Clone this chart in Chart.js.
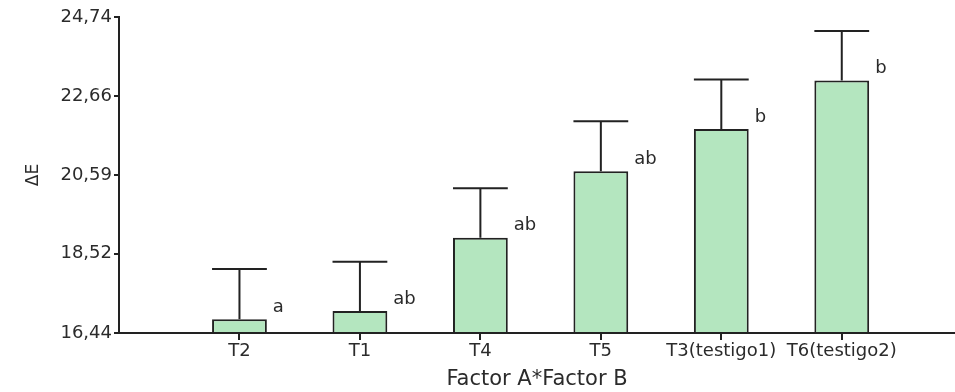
<!DOCTYPE html>
<html>
<head>
<meta charset="utf-8">
<script src="https://cdn.jsdelivr.net/npm/chart.js@4.4.0/dist/chart.umd.min.js"></script>
<style>
  html, body { margin: 0; padding: 0; background: #fff; }
</style>
</head>
<body>
<canvas id="grafico" width="955" height="392"></canvas>
<script>
// datos
const categories = ["T2", "T1", "T4", "T5", "T3(testigo1)", "T6(testigo2)"];
const means = [16.80, 17.02, 18.94, 20.69, 21.80, 23.07];
const upperLimits = [18.12, 18.31, 20.24, 22.00, 23.10, 24.37];
const letters = ["a", "ab", "ab", "ab", "b", "b"];
const yTicks = [16.44, 18.52, 20.59, 22.66, 24.74];

Chart.defaults.font.family = "'DejaVu Sans', sans-serif";
Chart.defaults.color = "#2b2b2b";

// barras de error (solo hacia arriba) y letras de Tukey
const errorBars = {
    id: "errorBars",
    afterDatasetsDraw(chart) {
        const ctx = chart.ctx;
        const y = chart.scales.y;
        const meta = chart.getDatasetMeta(0);
        ctx.save();
        ctx.strokeStyle = "#222";
        ctx.lineWidth = 2;
        meta.data.forEach((bar, i) => {
            const half = bar.width / 2;
            const yTop = y.getPixelForValue(upperLimits[i]);
            const yMean = y.getPixelForValue(means[i]);
            ctx.beginPath();
            ctx.moveTo(bar.x, yMean);
            ctx.lineTo(bar.x, yTop);
            ctx.moveTo(bar.x - half, yTop);
            ctx.lineTo(bar.x + half, yTop);
            ctx.stroke();
            ctx.fillStyle = "#2b2b2b";
            ctx.font = "18px 'DejaVu Sans', sans-serif";
            ctx.textAlign = "left";
            ctx.textBaseline = "middle";
            ctx.fillText(letters[i], bar.x + half + 6, yMean - 12);
        });
        ctx.restore();
    }
};

new Chart(document.getElementById("grafico"), {
    type: "bar",
    data: {
        datasets: [{
            data: means.map((v, i) => ({ x: i + 1, y: v })),
            base: yTicks[0],
            backgroundColor: "#b4e6bf",
            borderColor: "#222",
            borderWidth: 2,
            barPercentage: 0.455,
            categoryPercentage: 1
        }]
    },
    options: {
        responsive: false,
        animation: false,
        layout: { padding: { top: 17, right: 0, left: 0, bottom: 0 } },
        plugins: { legend: { display: false }, tooltip: { enabled: false } },
        scales: {
            x: {
                type: "linear",
                min: 0,
                max: 6.94,
                offset: false,
                grid: { offset: false, drawOnChartArea: false, drawTicks: true, tickLength: 7, color: "#222", lineWidth: 2 },
                border: { display: true, color: "#222", width: 2 },
                afterBuildTicks: s => { s.ticks = categories.map((c, i) => ({ value: i + 1 })); },
                afterFit: s => { s.height = 59; },
                ticks: {
                    autoSkip: false,
                    maxRotation: 0,
                    padding: 1,
                    font: { size: 18 },
                    callback: v => categories[v - 1]
                },
                title: { display: true, text: "Factor A*Factor B", font: { size: 21 }, padding: { top: 0, bottom: 0 } }
            },
            y: {
                min: yTicks[0],
                max: yTicks[yTicks.length - 1],
                grid: { drawOnChartArea: false, drawTicks: true, tickLength: 5, color: "#222", lineWidth: 2 },
                border: { display: true, color: "#222", width: 2 },
                afterBuildTicks: s => { s.ticks = yTicks.map(v => ({ value: v })); },
                afterFit: s => { s.width = 119; },
                ticks: {
                    padding: 2,
                    font: { size: 18 },
                    callback: v => v.toFixed(2).replace(".", ",")
                },
                title: { display: true, text: "ΔE", font: { size: 17 }, padding: { top: 23, bottom: 0 } }
            }
        }
    },
    plugins: [errorBars]
});
</script>
</body>
</html>
